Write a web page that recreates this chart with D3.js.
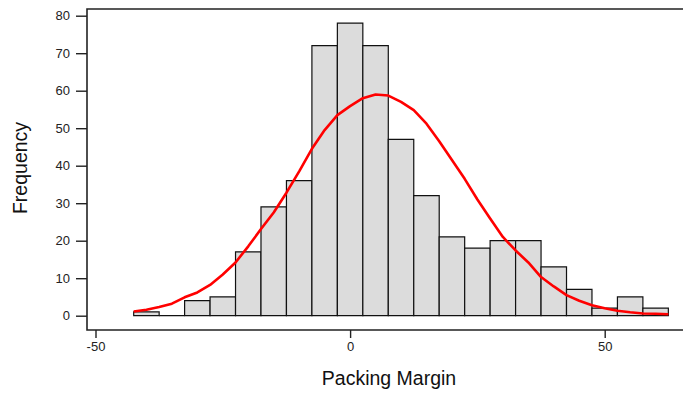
<!DOCTYPE html>
<html lang="en">
<head>
    <meta charset="UTF-8">
    <title>Packing Margin</title>
    <script src="https://cdn.jsdelivr.net/npm/d3@7"></script>
    <style>
        body { margin: 0; background: #fff; }
        text { font-family: Arial, "Liberation Sans", sans-serif; }
    </style>
</head>
<body>
<script>
    // histogram bins (centre of each 5-wide bin) and counts
    var binCenters = [-40, -35, -30, -25, -20, -15, -10, -5, 0, 5, 10, 15, 20, 25, 30, 35, 40, 45, 50, 55, 60];
    var counts = [1, 0, 4, 5, 17, 29, 36, 72, 78, 72, 47, 32, 21, 18, 20, 20, 13, 7, 2, 5, 2];
    var binWidth = 5;

    // red fitted curve
    var curveX = [-42.5, -40, -37.5, -35, -32.5, -30, -27.5, -25, -22.5, -20, -17.5, -15, -12.5, -10, -7.5, -5, -2.5,
        0, 2.5, 5, 7.5, 10, 12.5, 15, 17.5, 20, 22.5, 25, 27.5, 30, 32.5, 35, 37.5, 40, 42.5, 45, 47.5, 50, 52.5,
        55, 57.5, 60, 62.5];
    var curveY = [1.1, 1.6, 2.3, 3.2, 4.9, 6.2, 8.2, 11.0, 14.2, 18.5, 23.1, 27.5, 32.8, 38.5, 44.5, 49.5, 53.5,
        55.9, 58.0, 59.0, 58.7, 57.0, 54.8, 51.2, 46.5, 41.5, 36.5, 31.0, 25.9, 21.0, 17.4, 14.2, 10.3, 7.8, 5.5,
        4.0, 2.8, 2.0, 1.3, 0.9, 0.6, 0.5, 0.4];

    var xTicks = [-50, 0, 50];
    var yTicks = [0, 10, 20, 30, 40, 50, 60, 70, 80];

    var w = 683, h = 393;
    var frameL = 87, frameT = 9, frameB = 330, frameR = 690;

    var svg = d3.select("body").append("svg")
        .attr("width", w)
        .attr("height", h);

    var x = d3.scaleLinear().domain([-50, 50]).range([95.5, 604.7]);
    var y = d3.scaleLinear().domain([0, 80]).range([315.7, 15.7]);

    // bars as closed paths so an empty bin still shows its base line
    svg.selectAll("path.bar")
        .data(counts)
        .enter()
        .append("path")
        .attr("class", "bar")
        .attr("d", function (d, i) {
            var x0 = x(binCenters[i] - binWidth / 2), x1 = x(binCenters[i] + binWidth / 2);
            return "M" + x0 + "," + y(0) + "V" + y(d) + "H" + x1 + "V" + y(0) + "Z";
        })
        .attr("fill", "#dcdcdc")
        .attr("stroke", "#111")
        .attr("stroke-width", 1.2);

    // fitted curve
    var line = d3.line()
        .x(function (d, i) { return x(curveX[i]); })
        .y(function (d) { return y(d); });

    svg.append("path")
        .datum(curveY)
        .attr("d", line)
        .attr("fill", "none")
        .attr("stroke", "#ff0000")
        .attr("stroke-width", 2.6)
        .attr("stroke-linejoin", "round");

    // frame
    svg.append("path")
        .attr("d", "M" + frameR + "," + frameT + "H" + frameL + "V" + frameB + "H" + frameR)
        .attr("fill", "none")
        .attr("stroke", "#222")
        .attr("stroke-width", 1.6);

    // axes
    var yAxis = svg.append("g")
        .attr("transform", "translate(" + frameL + ",0)")
        .call(d3.axisLeft(y).tickValues(yTicks).tickSize(11).tickSizeOuter(0).tickPadding(6));

    var xAxis = svg.append("g")
        .attr("transform", "translate(0," + frameB + ")")
        .call(d3.axisBottom(x).tickValues(xTicks).tickSize(8).tickSizeOuter(0).tickPadding(4)
            .tickFormat(d3.format("d")));

    [yAxis, xAxis].forEach(function (g) {
        g.select(".domain").remove();
        g.selectAll(".tick line").attr("stroke", "#222").attr("stroke-width", 1.4);
        g.selectAll(".tick text")
            .attr("font-size", "13px")
            .attr("font-family", "Arial, 'Liberation Sans', sans-serif")
            .attr("fill", "#222");
    });
    xAxis.selectAll(".tick text").text(function (d) { return d < 0 ? "-" + Math.abs(d) : d; });

    // axis titles
    svg.append("text")
        .attr("x", 389)
        .attr("y", 385)
        .attr("text-anchor", "middle")
        .attr("font-size", "19.5px")
        .attr("fill", "#111")
        .text("Packing Margin");

    svg.append("text")
        .attr("transform", "translate(27,168) rotate(-90)")
        .attr("text-anchor", "middle")
        .attr("font-size", "19.5px")
        .attr("fill", "#111")
        .text("Frequency");
</script>
</body>
</html>
